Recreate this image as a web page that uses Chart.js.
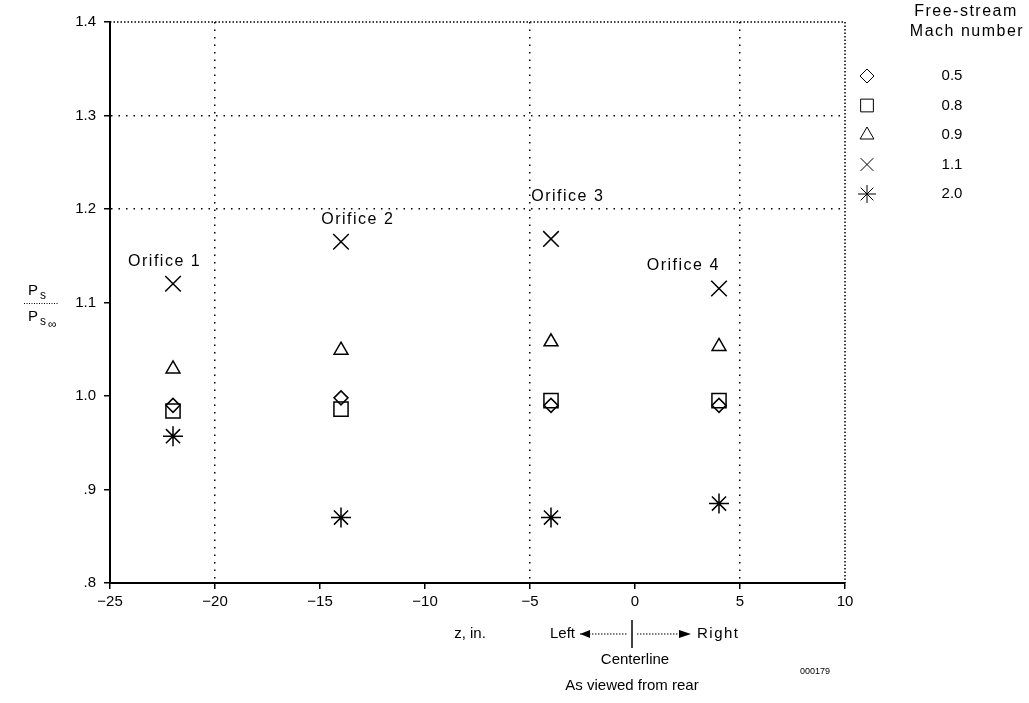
<!DOCTYPE html>
<html>
<head>
<meta charset="utf-8">
<script src="https://cdn.jsdelivr.net/npm/chart.js@4/dist/chart.umd.min.js"></script>
<style>
  html, body { margin: 0; background: #fff; }
  #wrap { width: 1029px; height: 703px; position: relative; }
</style>
</head>
<body>
<div id="wrap"><canvas id="chart"></canvas></div>
<script>
// orifice positions along z (in.)
const orificeZ = [-22, -14, -4, 4];
const orificeNames = ['Orifice 1', 'Orifice 2', 'Orifice 3', 'Orifice 4'];
// where the orifice names sit, in data units
const orificeLabelZ = [-22.4, -13.2, -3.2, 2.3];
const orificeLabelP = [1.144, 1.189, 1.213, 1.14];

// free-stream Mach numbers and measured Ps / Ps_inf at each orifice
const machLabels = ['0.5', '0.8', '0.9', '1.1', '2.0'];
const mach05 = [0.990, 0.998, 0.990, 0.990];
const mach08 = [0.984, 0.986, 0.995, 0.995];
const mach09 = [1.029, 1.049, 1.058, 1.053];
const mach11 = [1.120, 1.165, 1.168, 1.115];
const mach20 = [0.957, 0.870, 0.870, 0.885];

const xTickLabels = ['\u221225', '\u221220', '\u221215', '\u221210', '\u22125', '0', '5', '10'];
const yTickLabels = ['.8', '.9', '1.0', '1.1', '1.2', '1.3', '1.4'];
const xGridAt = [-20, -5, 5];
const yGridAt = [1.2, 1.3];

const markerStyles = ['rectRot', 'rect', 'triangle', 'crossRot', 'star'];
const markerSizes = [7, 10, 8, 11, 10];
const seriesValues = [mach05, mach08, mach09, mach11, mach20];

const FONT = '"Liberation Sans", Arial, sans-serif';

const datasets = seriesValues.map((vals, i) => ({
    label: machLabels[i],
    data: vals.map((v, j) => ({ x: orificeZ[j], y: v })),
    pointStyle: markerStyles[i],
    pointRadius: markerSizes[i],
    pointHoverRadius: markerSizes[i],
    pointBorderWidth: 1.5,
    borderColor: '#000',
    backgroundColor: 'rgba(0,0,0,0)',
    showLine: false
}));

const extras = {
    id: 'extras',
    afterDraw(chart) {
        const { ctx, chartArea: a, scales: { x, y } } = chart;
        ctx.save();

        // dotted top and right frame
        ctx.strokeStyle = '#000';
        ctx.lineWidth = 1.5;
        ctx.setLineDash([1.5, 2]);
        ctx.beginPath();
        ctx.moveTo(a.left, a.top);
        ctx.lineTo(a.right, a.top);
        ctx.lineTo(a.right, a.bottom);
        ctx.stroke();
        ctx.setLineDash([]);

        // orifice names
        ctx.fillStyle = '#000';
        ctx.font = '16px ' + FONT;
        ctx.letterSpacing = '1.5px';
        ctx.textAlign = 'center';
        ctx.textBaseline = 'middle';
        orificeNames.forEach((n, i) => {
            ctx.fillText(n, x.getPixelForValue(orificeLabelZ[i]), y.getPixelForValue(orificeLabelP[i]));
        });
        ctx.letterSpacing = '0px';

        // y axis title  Ps / Ps_inf
        const yc = y.getPixelForValue(1.1);
        ctx.textAlign = 'left';
        ctx.font = '15px ' + FONT;
        ctx.fillText('P', 28, yc - 12);
        ctx.fillText('P', 28, yc + 14);
        ctx.font = '12px ' + FONT;
        ctx.fillText('s', 40, yc - 7);
        ctx.fillText('s', 40, yc + 19);
        ctx.fillText('\u221e', 48, yc + 22);
        ctx.setLineDash([1, 1.5]);
        ctx.lineWidth = 1;
        ctx.beginPath();
        ctx.moveTo(24, yc + 1);
        ctx.lineTo(58, yc + 1);
        ctx.stroke();
        ctx.setLineDash([]);

        // x axis title and the centerline note
        const x0 = x.getPixelForValue(0);
        ctx.font = '15px ' + FONT;
        ctx.textAlign = 'center';
        ctx.fillText('z, in.', 470, 634);
        ctx.textAlign = 'right';
        ctx.fillText('Left', 575, 634);
        ctx.textAlign = 'left';
        ctx.letterSpacing = '1.5px';
        ctx.fillText('Right', x0 + 62, 634);
        ctx.letterSpacing = '0px';
        ctx.lineWidth = 1.5;
        ctx.beginPath();
        ctx.moveTo(x0 - 3, 620);
        ctx.lineTo(x0 - 3, 648);
        ctx.stroke();
        ctx.setLineDash([1.5, 1.5]);
        ctx.lineWidth = 1;
        ctx.beginPath();
        ctx.moveTo(580, 634);
        ctx.lineTo(x0 - 8, 634);
        ctx.moveTo(x0 + 2, 634);
        ctx.lineTo(x0 + 52, 634);
        ctx.stroke();
        ctx.setLineDash([]);
        ctx.beginPath();
        ctx.moveTo(580, 634); ctx.lineTo(590, 630); ctx.lineTo(590, 638); ctx.closePath();
        ctx.moveTo(x0 + 56, 634); ctx.lineTo(x0 + 44, 630); ctx.lineTo(x0 + 44, 638); ctx.closePath();
        ctx.fill();
        ctx.textAlign = 'center';
        ctx.fillText('Centerline', x0, 660);
        ctx.fillText('As viewed from rear', x0 - 3, 686);
        ctx.font = '9px ' + FONT;
        ctx.fillText('000179', 815, 672);

        // legend
        ctx.font = '16px ' + FONT;
        ctx.letterSpacing = '1.5px';
        ctx.fillText('Free-stream', 966, 12);
        ctx.fillText('Mach number', 967, 32);
        ctx.letterSpacing = '0px';
        ctx.font = '15px ' + FONT;
        machLabels.forEach((m, i) => {
            const ly = 76 + i * 29.5;
            ctx.fillStyle = '#000';
            ctx.fillText(m, 952, ly);
            ctx.fillStyle = 'rgba(0,0,0,0)';
            ctx.strokeStyle = '#000';
            Chart.helpers.drawPoint(ctx, {
                pointStyle: markerStyles[i],
                radius: Math.min(markerSizes[i], 9),
                borderWidth: 1.5,
                rotation: 0
            }, 867, ly);
        });
        ctx.restore();
    }
};

new Chart(document.getElementById('chart'), {
    type: 'scatter',
    data: { datasets },
    options: {
        responsive: true,
        maintainAspectRatio: false,
        animation: false,
        layout: { padding: { left: 0, right: 184, top: 22, bottom: 0 } },
        plugins: { legend: { display: false }, tooltip: { enabled: false } },
        scales: {
            x: {
                type: 'linear',
                min: -25,
                max: 10,
                afterFit: s => { s.height = 120; },
                afterBuildTicks: s => { s.ticks = xTickLabels.map((_, i) => ({ value: -25 + i * 5 })); },
                ticks: {
                    color: '#000',
                    padding: 4,
                    font: { family: FONT, size: 15 },
                    callback: (v, i) => xTickLabels[i]
                },
                grid: {
                    color: c => (c.tick && xGridAt.includes(c.tick.value)) ? '#000' : 'rgba(0,0,0,0)',
                    lineWidth: 1.5,
                    tickLength: 6,
                    tickColor: '#000'
                },
                border: { color: '#000', width: 2, dash: [1.5, 6] }
            },
            y: {
                min: 0.8,
                max: 1.4,
                afterFit: s => { s.width = 110; },
                afterBuildTicks: s => { s.ticks = yTickLabels.map((_, i) => ({ value: Math.round((0.8 + i * 0.1) * 10) / 10 })); },
                ticks: {
                    color: '#000',
                    padding: 8,
                    font: { family: FONT, size: 15 },
                    callback: (v, i) => yTickLabels[i]
                },
                grid: {
                    color: c => (c.tick && yGridAt.includes(c.tick.value)) ? '#000' : 'rgba(0,0,0,0)',
                    lineWidth: 1.5,
                    tickLength: 6,
                    tickColor: '#000'
                },
                border: { color: '#000', width: 2, dash: [1.5, 6] }
            }
        }
    },
    plugins: [extras]
});
</script>
</body>
</html>
